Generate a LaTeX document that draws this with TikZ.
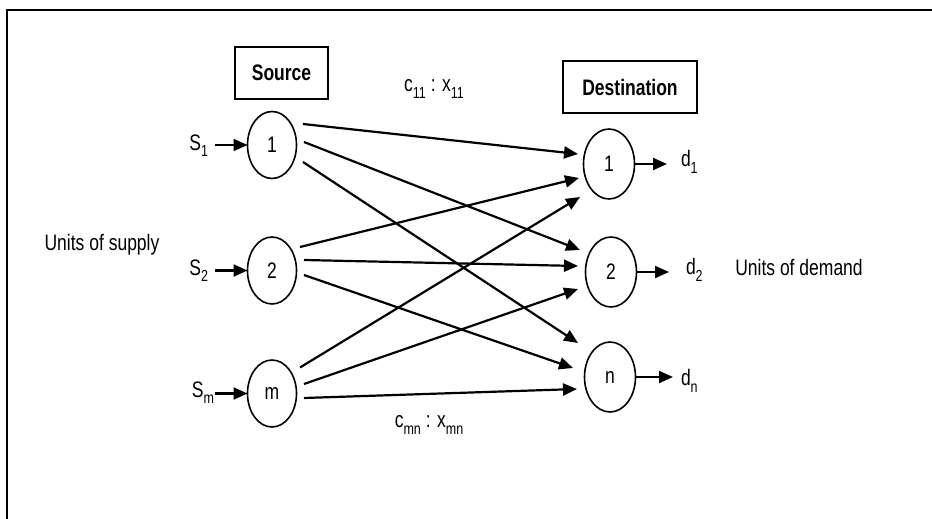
\documentclass[tikz,border=0pt]{standalone}
\usepackage{fontspec}
\setmainfont{Liberation Sans}
\usetikzlibrary{arrows.meta,shapes.geometric}
\newcommand\tx[1]{\scalebox{1}[1.28]{#1}}
\newcommand\lo[1]{\raisebox{-0.28em}{\fontsize{12.5}{12.5}\selectfont #1}}
\begin{document}
\begin{tikzpicture}[x=1pt,y=-1pt,
  every node/.style={font=\fontsize{17.5}{17.5}\selectfont, inner sep=0pt, outer sep=0pt},
  hbox/.style={draw, line width=1.8pt, minimum height=52pt},
  sel/.style={draw, ellipse, line width=1.6pt, minimum width=49pt, minimum height=67pt},
  del/.style={draw, ellipse, line width=1.6pt, minimum width=51pt, minimum height=70pt},
  edge/.style={line width=2.2pt, -{Triangle[length=14pt,width=12pt]}},
  frame/.style={line width=2pt}]
\useasboundingbox (0,0) rectangle (932,519);
\draw[frame] (7,519) -- (7,10) -- (932,10);

% header boxes
\node[hbox, minimum width=93pt] (src) at (281.5,73) {\fontsize{17.5}{17.5}\selectfont\bfseries\tx{Source}};
\node[hbox, minimum width=134pt] (dst) at (630,87) {\fontsize{17.5}{17.5}\selectfont\bfseries\tx{Destination}};

% source nodes
\node[sel] (s1) at (272,145) {\tx{1}};
\node[sel] (s2) at (272,270.5) {\tx{2}};
\node[sel] (sm) at (272,393.5) {\tx{m}};

% destination nodes
\node[del] (t1) at (609,164) {\tx{1}};
\node[del] (t2) at (611,272) {\tx{2}};
\node[del] (tn) at (610,377) {\tx{n}};

% supply labels
\node[anchor=east] (l1) at (208,146) {\tx{S\lo{1}}};
\node[anchor=east] (l2) at (208,271) {\tx{S\lo{2}}};
\node[anchor=east] (lm) at (214,393) {\tx{S\lo{m}}};
\draw[edge, shorten <=7pt] (s1 -| l1.east) -- (s1.west);
\draw[edge, shorten <=7pt] (s2 -| l2.east) -- (s2.west);
\draw[edge, shorten <=1pt] (sm -| lm.east) -- (sm.west);

% demand labels
\node[anchor=west] (r1) at (681,162) {\tx{d\lo{1}}};
\node[anchor=west] (r2) at (686,270) {\tx{d\lo{2}}};
\node[anchor=west] (rn) at (681,381) {\tx{d\lo{n}}};
\draw[edge, shorten >=14pt] (t1.east) -- (t1 -| r1.west);
\draw[edge, shorten >=17pt] (t2.east) -- (t2 -| r2.west);
\draw[edge, shorten >=8pt] (tn.east) -- (tn -| rn.west);

% side texts
\node (us) at (102,245) {\tx{Units of supply}};
\node (ud) at (799,267) {\tx{Units of demand}};
\node (c11) at (434,89) {\tx{c\lo{11} : x\lo{11}}};
\node (cmn) at (429,425) {\tx{c\lo{mn} : x\lo{mn}}};

% transport arcs
\draw[edge] ([shift={(31,-21)}]s1.center) -- ([shift={(-31,-10)}]t1.center);
\draw[edge] ([shift={(32,-3)}]s1.center) -- ([shift={(-31,-22)}]t2.center);
\draw[edge] ([shift={(31,17)}]s1.center) -- ([shift={(-32,-34)}]tn.center);
\draw[edge] ([shift={(28,-23.5)}]s2.center) -- ([shift={(-30,14)}]t1.center);
\draw[edge] ([shift={(32,-10.5)}]s2.center) -- ([shift={(-33,-6)}]t2.center);
\draw[edge] ([shift={(32,4.5)}]s2.center) -- ([shift={(-37,-9)}]tn.center);
\draw[edge] ([shift={(28,-26)}]sm.center) -- ([shift={(-29,33)}]t1.center);
\draw[edge] ([shift={(32,-9.5)}]sm.center) -- ([shift={(-33,17)}]t2.center);
\draw[edge] ([shift={(32,4.5)}]sm.center) -- ([shift={(-33,12)}]tn.center);
\end{tikzpicture}
\end{document}
